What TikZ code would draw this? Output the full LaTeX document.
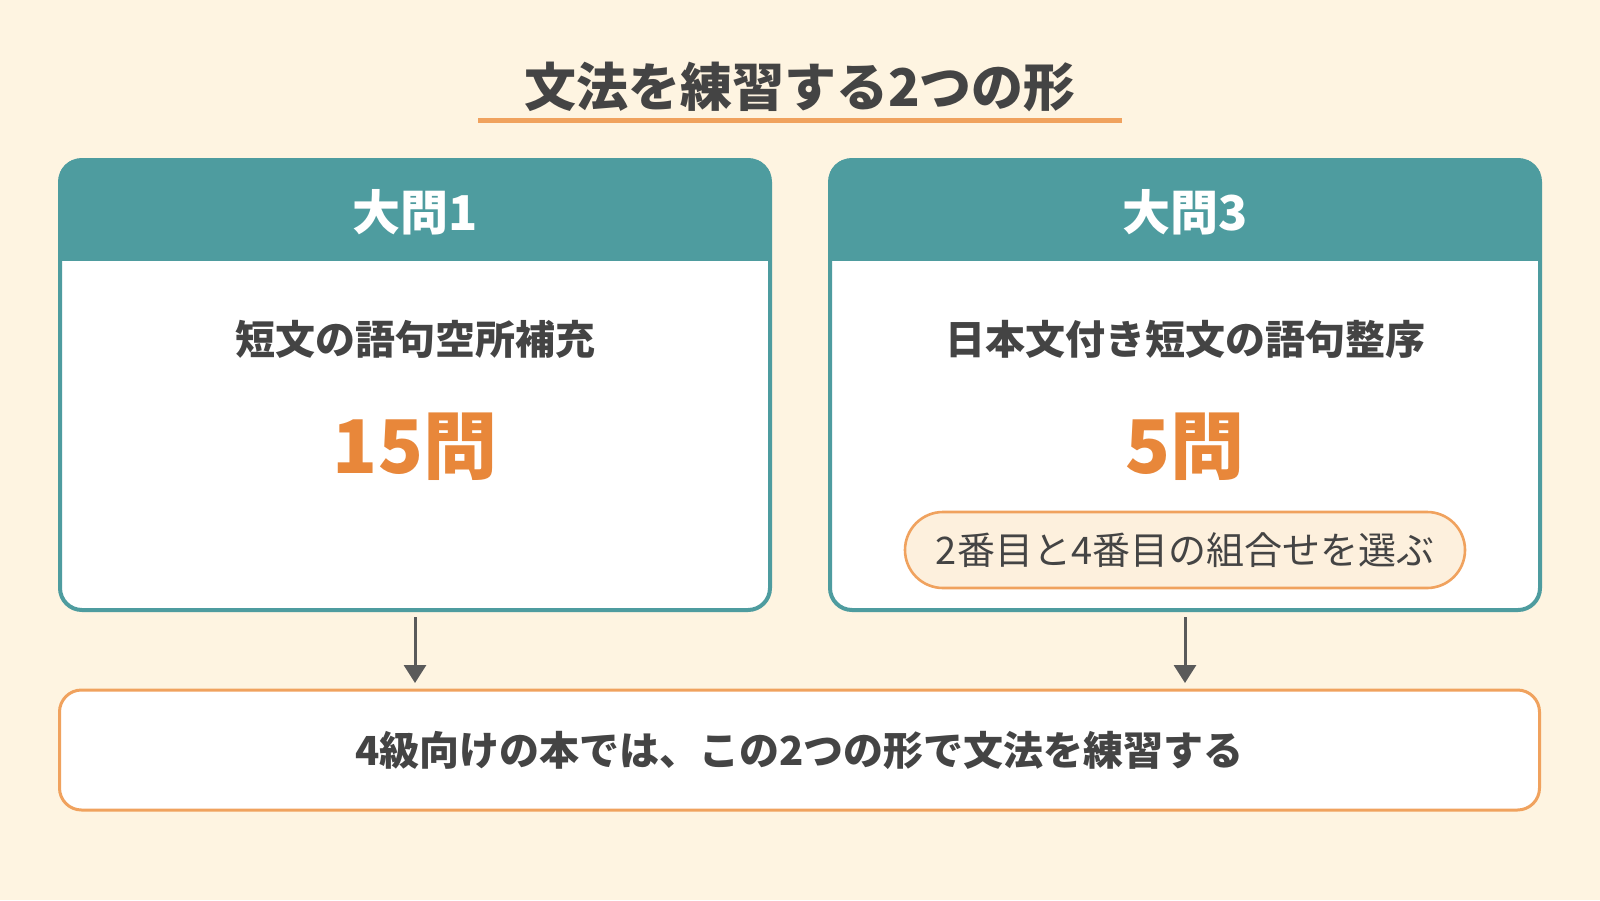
\documentclass[tikz,border=0pt]{standalone}
\usepackage{fontspec}
\setmainfont{Noto Sans CJK JP}
\usetikzlibrary{arrows.meta,calc}

\definecolor{bgcream}{HTML}{FEF4E1}
\definecolor{cardteal}{HTML}{4E9C9F}
\definecolor{lineorange}{HTML}{F0A25E}
\definecolor{numorange}{HTML}{E8873A}
\definecolor{pillfill}{HTML}{FDF0DD}
\definecolor{textgray}{HTML}{444444}
\definecolor{arrowgray}{HTML}{5A5A5A}

\tikzset{
	card/.style = {draw = cardteal, line width = 2pt, fill = white, rounded corners = 11pt,
		minimum width = 355pt, minimum height = 225pt, outer sep = 0pt, inner sep = 0pt},
	headtext/.style = {text = white, font = \fontsize{24pt}{28pt}\selectfont\bfseries},
	subtext/.style = {text = textgray, font = \fontsize{20pt}{24pt}\selectfont\bfseries},
	bignum/.style = {text = numorange, font = \fontsize{37pt}{42pt}\selectfont\bfseries},
	pill/.style = {draw = lineorange, line width = 1.3pt, fill = pillfill, rounded corners = 19pt,
		minimum width = 280pt, minimum height = 38pt, text = textgray,
		font = \fontsize{19pt}{23pt}\selectfont},
	summary/.style = {draw = lineorange, line width = 1.5pt, fill = white, rounded corners = 11pt,
		minimum width = 740pt, minimum height = 60pt, outer sep = 0pt, text = textgray,
		font = \fontsize{20pt}{24pt}\selectfont\bfseries},
	flow/.style = {draw = arrowgray, line width = 1.5pt, -{Triangle[width = 11pt, length = 9pt]},
		shorten <= 3.5pt, shorten >= 3.5pt}
}

\begin{document}
\begin{tikzpicture}[x = 0.5pt, y = -0.5pt]
	\fill[bgcream] (0,0) rectangle (1600,900);
	\useasboundingbox (0,0) rectangle (1600,900);

	\node[text = textgray, font = \fontsize{26pt}{30pt}\selectfont\bfseries] (TITLE) at (800,87) {文法を練習する2つの形};
	\coordinate (UL) at (478,120);
	\coordinate (UR) at (1122,120);
	\draw[lineorange, line width = 2.5pt] (UL) -- (UR);

	\foreach \name/\cx in {C1/415, C3/1185}{
		\node[card] (\name) at (\cx,385) {};
		\begin{scope}
			\clip (\name.north west) rectangle ($(\name.north east)+(0,-50pt)$);
			\path[fill = cardteal, draw = cardteal, line width = 2pt, rounded corners = 11pt]
				(\name.south west) rectangle (\name.north east);
		\end{scope}
	}

	\node[headtext] (H1) at ($(C1.north)+(0,-26pt)$) {大問1};
	\node[subtext] (S1) at (415,339) {短文の語句空所補充};
	\node[bignum] (N1) at (415,447) {15問};

	\node[headtext] (H3) at ($(C3.north)+(0,-26pt)$) {大問3};
	\node[subtext] (S3) at (1185,339) {日本文付き短文の語句整序};
	\node[bignum] (N3) at (1185,447) {5問};
	\node[pill] (P3) at (1185,550) {2番目と4番目の組合せを選ぶ};

	\node[summary] (SUM) at (799.5,750) {4級向けの本では、この2つの形で文法を練習する};

	\draw[flow] (C1.south) -- (C1.south |- SUM.north);
	\draw[flow] (C3.south) -- (C3.south |- SUM.north);
\end{tikzpicture}
\end{document}
